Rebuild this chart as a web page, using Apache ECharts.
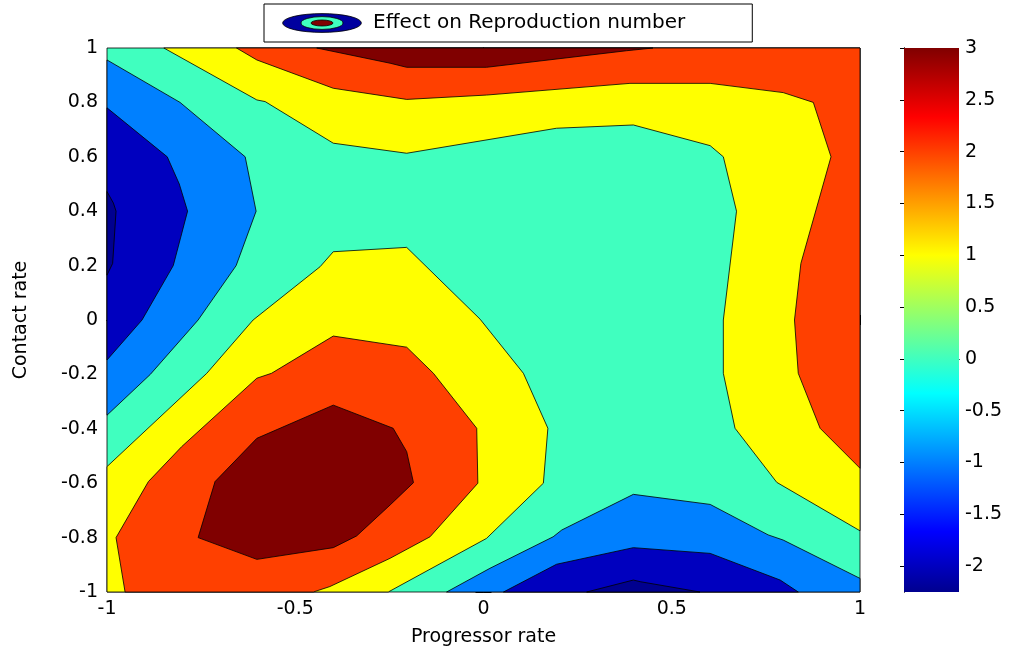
<!DOCTYPE html>
<html>
<head>
<meta charset="utf-8">
<script src="https://cdn.jsdelivr.net/npm/echarts@6/dist/echarts.min.js"></script>
<style>
html, body { margin: 0; padding: 0; background: #fff; }
#main { width: 1018px; height: 655px; }
</style>
</head>
<body>
<div id="main"></div>
<script>
// contour bands (jet colours at levels <-2, -2, -1, 0, 1, 2, 3)
var bandColors = ['#00008F', '#0000BF', '#0080FF', '#40FFBF', '#FFFF00', '#FF4000', '#800000'];

// filled contour regions, [progressor rate, contact rate]
var domain = [[-1, -1], [1, -1], [1, 1], [-1, 1]];
var lowUL1 = [[-1, 0.956], [-0.806, 0.8], [-0.633, 0.6], [-0.604, 0.4], [-0.657, 0.2], [-0.758, 0], [-0.885, -0.2], [-1, -0.35]];
var lowUL2 = [[-1, 0.78], [-0.84, 0.6], [-0.808, 0.5], [-0.786, 0.4], [-0.824, 0.2], [-0.907, 0], [-1, -0.147]];
var lowUL3 = [[-1, 0.472], [-0.983, 0.43], [-0.976, 0.4], [-0.985, 0.208], [-1, 0.165]];
var highTop1 = [[-0.849, 1], [-0.602, 0.809], [-0.58, 0.803], [-0.399, 0.65], [-0.204, 0.613], [0.194, 0.705], [0.398, 0.717], [0.602, 0.641], [0.637, 0.6], [0.672, 0.4], [0.637, 0], [0.637, -0.196], [0.668, -0.398], [0.779, -0.597], [1, -0.775], [1, 1]];
var highTop2 = [[-0.656, 1], [-0.602, 0.956], [-0.399, 0.852], [-0.204, 0.811], [0.008, 0.827], [0.389, 0.87], [0.602, 0.87], [0.796, 0.836], [0.876, 0.8], [0.923, 0.6], [0.843, 0.208], [0.826, 0], [0.836, -0.196], [0.894, -0.398], [1, -0.545], [1, 1]];
var highTop3 = [[-0.443, 1], [-0.248, 0.944], [-0.204, 0.929], [0.008, 0.929], [0.38, 0.99], [0.45, 1]];
var highLL1 = [[-1, -0.539], [-0.735, -0.196], [-0.612, 0], [-0.434, 0.196], [-0.399, 0.251], [-0.204, 0.267], [-0.009, 0.003], [0.106, -0.196], [0.171, -0.398], [0.159, -0.6], [0.008, -0.803], [-0.253, -1], [-1, -1]];
var highLL2 = [[-0.952, -1], [-0.976, -0.8], [-0.89, -0.594], [-0.802, -0.466], [-0.602, -0.214], [-0.563, -0.196], [-0.399, -0.059], [-0.204, -0.1], [-0.133, -0.196], [-0.018, -0.398], [-0.015, -0.6], [-0.142, -0.797], [-0.248, -0.876], [-0.408, -0.98], [-0.452, -1]];
var highLL3 = [[-0.758, -0.8], [-0.713, -0.594], [-0.602, -0.435], [-0.399, -0.313], [-0.24, -0.398], [-0.204, -0.484], [-0.186, -0.598], [-0.248, -0.68], [-0.337, -0.794], [-0.399, -0.837], [-0.602, -0.88]];
var lowLR1 = [[-0.098, -1], [0.017, -0.913], [0.185, -0.797], [0.208, -0.772], [0.398, -0.641], [0.602, -0.678], [0.756, -0.79], [0.796, -0.809], [1, -0.95], [1, -1]];
var lowLR2 = [[0.053, -1], [0.194, -0.898], [0.398, -0.837], [0.602, -0.858], [0.788, -0.956], [0.836, -1]];
var lowLR3 = [[0.274, -1], [0.398, -0.956], [0.416, -0.962], [0.575, -1]];

// [polygon, band] in drawing order
var regions = [
  [domain, 3],
  [lowUL1, 2], [lowUL2, 1], [lowUL3, 0],
  [highTop1, 4], [highTop2, 5], [highTop3, 6],
  [highLL1, 4], [highLL2, 5], [highLL3, 6],
  [lowLR1, 2], [lowLR2, 1], [lowLR3, 0]
];

// colour bar
var cbarMin = -2.25;
var cbarMax = 3;
var cbarTicks = [-2, -1.5, -1, -0.5, 0, 0.5, 1, 1.5, 2, 2.5, 3];

var seriesName = 'Effect on Reproduction number';
var font = 'DejaVu Sans';

var iconSvg = "<svg xmlns='http://www.w3.org/2000/svg' width='80' height='20' viewBox='0 0 80 20'>" +
  "<ellipse cx='40' cy='10' rx='39.4' ry='9.4' fill='#00009F' stroke='#000' stroke-width='0.8'/>" +
  "<ellipse cx='40' cy='10' rx='21' ry='6.4' fill='#40FFBF' stroke='#000' stroke-width='0.8'/>" +
  "<ellipse cx='40' cy='10' rx='11' ry='3' fill='#800000' stroke='#000' stroke-width='0.8'/></svg>";
var iconUrl = 'image://data:image/svg+xml;charset=utf-8,' + encodeURIComponent(iconSvg);

var chart = echarts.init(document.getElementById('main'));

var axisText = { color: '#000', fontFamily: font, fontSize: 19 };

chart.setOption({
  animation: false,
  backgroundColor: '#fff',
  legend: {
    data: [{ name: seriesName, icon: iconUrl }],
    left: 264,
    top: 4,
    padding: [9, 67, 9, 18],
    itemWidth: 80,
    itemHeight: 20,
    itemGap: 10,
    borderColor: '#000',
    borderWidth: 1,
    backgroundColor: '#fff',
    selectedMode: false,
    textStyle: { color: '#000', fontFamily: font, fontSize: 20, padding: [0, 0, 0, 6] }
  },
  grid: [
    { left: 107, right: 158, top: 48, bottom: 63 },
    { left: 904, right: 59, top: 48, bottom: 63 }
  ],
  xAxis: [
    {
      gridIndex: 0, type: 'value', min: -1, max: 1, interval: 0.5, position: 'bottom',
      name: 'Progressor rate', nameLocation: 'middle', nameGap: 36,
      nameTextStyle: { color: '#000', fontFamily: font, fontSize: 19 },
      axisLine: { show: true, lineStyle: { color: '#000', width: 1 } },
      axisTick: { show: true, inside: true, length: 5, lineStyle: { color: '#000' } },
      axisLabel: Object.assign({ margin: 8 }, axisText),
      splitLine: { show: false }
    },
    {
      gridIndex: 0, type: 'value', min: -1, max: 1, interval: 0.5, position: 'top',
      axisLine: { show: true, lineStyle: { color: '#000', width: 1 } },
      axisTick: { show: true, inside: true, length: 5, lineStyle: { color: '#000' } },
      axisLabel: { show: false },
      splitLine: { show: false }
    },
    {
      gridIndex: 1, type: 'value', min: 0, max: 1, position: 'bottom',
      axisLine: { show: true, lineStyle: { color: '#000', width: 1 } },
      axisTick: { show: false }, axisLabel: { show: false }, splitLine: { show: false }
    },
    {
      gridIndex: 1, type: 'value', min: 0, max: 1, position: 'top',
      axisLine: { show: true, lineStyle: { color: '#000', width: 1 } },
      axisTick: { show: false }, axisLabel: { show: false }, splitLine: { show: false }
    }
  ],
  yAxis: [
    {
      gridIndex: 0, type: 'value', min: -1, max: 1, interval: 0.2, position: 'left',
      name: 'Contact rate', nameLocation: 'middle', nameGap: 76, nameRotate: 90,
      nameTextStyle: { color: '#000', fontFamily: font, fontSize: 19 },
      axisLine: { show: true, lineStyle: { color: '#000', width: 1 } },
      axisTick: { show: true, inside: true, length: 8, lineStyle: { color: '#000' } },
      axisLabel: Object.assign({ margin: 9 }, axisText),
      splitLine: { show: false }
    },
    {
      gridIndex: 0, type: 'value', min: -1, max: 1, interval: 0.2, position: 'right',
      axisLine: { show: true, lineStyle: { color: '#000', width: 1 } },
      axisTick: { show: true, inside: true, length: 8, lineStyle: { color: '#000' } },
      axisLabel: { show: false },
      splitLine: { show: false }
    },
    {
      gridIndex: 1, type: 'value', min: cbarMin, max: cbarMax, position: 'left',
      axisLine: { show: true, lineStyle: { color: '#000', width: 1 } },
      axisTick: { show: true, inside: true, length: 4, customValues: cbarTicks, lineStyle: { color: '#000' } },
      axisLabel: { show: false },
      splitLine: { show: false }
    },
    {
      gridIndex: 1, type: 'value', min: cbarMin, max: cbarMax, position: 'right',
      axisLine: { show: true, lineStyle: { color: '#000', width: 1 } },
      axisTick: { show: true, inside: true, length: 4, customValues: cbarTicks, lineStyle: { color: '#000' } },
      axisLabel: Object.assign({ margin: 6, customValues: cbarTicks }, axisText),
      splitLine: { show: false }
    }
  ],
  series: [
    {
      name: seriesName,
      type: 'custom',
      xAxisIndex: 0,
      yAxisIndex: 0,
      silent: true,
      data: regions.map(function (r) { return r[0][0]; }),
      renderItem: function (params, api) {
        var r = regions[params.dataIndex];
        var pts = r[0].map(function (p) { return api.coord(p); });
        return {
          type: 'polygon',
          shape: { points: pts },
          style: { fill: bandColors[r[1]], stroke: '#000', lineWidth: 0.8 }
        };
      }
    },
    {
      type: 'custom',
      xAxisIndex: 2,
      yAxisIndex: 2,
      silent: true,
      data: [[0, cbarMin]],
      renderItem: function (params, api) {
        var p1 = api.coord([0, cbarMax]);
        var p2 = api.coord([1, cbarMin]);
        return {
          type: 'rect',
          shape: { x: p1[0], y: p1[1], width: p2[0] - p1[0], height: p2[1] - p1[1] },
          style: {
            fill: {
              type: 'linear', x: 0, y: 1, x2: 0, y2: 0,
              colorStops: [
                { offset: 0, color: '#00008F' },
                { offset: 0.111, color: '#0000FF' },
                { offset: 0.365, color: '#00FFFF' },
                { offset: 0.619, color: '#FFFF00' },
                { offset: 0.873, color: '#FF0000' },
                { offset: 1, color: '#800000' }
              ]
            }
          }
        };
      }
    }
  ]
});
</script>
</body>
</html>
